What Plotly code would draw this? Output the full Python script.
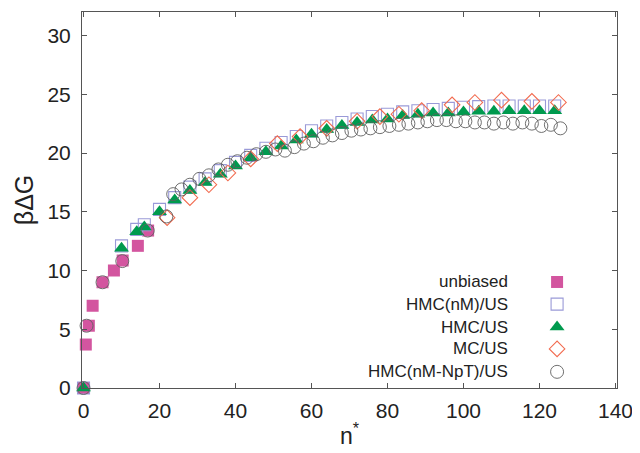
import plotly.graph_objects as go

# ---------------- data ----------------
unb_x = [0, 0.6, 1.4, 2.4, 5, 8, 10.3, 14.3, 17]
unb_y = [0, 3.7, 5.3, 7.0, 9.0, 10.0, 10.85, 12.1, 13.4]

nm_x = [0, 10, 14, 16, 20, 24, 28, 32, 36, 40, 44, 48, 52, 56, 60, 64, 68, 72,
        76, 80, 84, 88, 92, 96, 100, 104, 108, 112, 116, 120, 124]
nm_y = [0, 12.1, 13.5, 13.9, 15.2, 16.2, 17.1, 17.8, 18.5, 19.2, 19.8, 20.4, 20.9,
        21.4, 21.9, 22.3, 22.6, 22.9, 23.1, 23.3, 23.5, 23.6, 23.7, 23.8, 23.9,
        23.95, 24.0, 24.0, 24.0, 24.0, 24.0]

hmc_x = [0, 10, 14, 16, 20, 24, 28, 32, 36, 40, 44, 48, 52, 56, 60, 64, 68, 72,
         76, 80, 84, 88, 92, 96, 100, 104, 108, 112, 116, 120, 124]
hmc_y = [0, 11.9, 13.3, 13.7, 15.0, 16.0, 16.8, 17.5, 18.2, 18.9, 19.6, 20.1, 20.6,
         21.1, 21.6, 22.0, 22.35, 22.6, 22.8, 22.9, 23.2, 23.3, 23.4, 23.4, 23.5,
         23.55, 23.55, 23.6, 23.6, 23.6, 23.6]

mc_x = [22, 28, 33, 38, 44, 51, 57, 64, 72, 78, 83, 89, 97, 103, 110, 118, 125]
mc_y = [14.5, 16.2, 17.3, 18.3, 19.5, 20.8, 21.4, 22.1, 22.7, 23.1, 23.3, 23.6,
        24.1, 24.3, 24.5, 24.4, 24.3]

npt_x = [0, 0.8, 5, 10.2, 16.9, 21.8, 23.6, 25.8, 28, 30.5, 33, 35.5, 38, 40.5,
         43, 45.5, 48, 50.5, 53, 55.5, 58, 60.5, 63, 65.5, 68, 70.5, 73, 75.5, 78,
         80.5, 83, 85.5, 88, 90.5, 93, 95.5, 98, 100.5, 103, 105.5, 108, 110.5,
         113, 115.5, 118, 120.5, 123, 125.5]
npt_y = [0, 5.3, 9.0, 10.8, 13.4, 14.6, 16.5, 16.9, 17.3, 17.8, 18.1, 18.6, 19.0,
         19.3, 19.6, 19.9, 20.1, 20.3, 20.2, 20.5, 20.8, 21.0, 21.3, 21.5, 21.7,
         21.9, 22.0, 22.1, 22.2, 22.3, 22.4, 22.5, 22.6, 22.7, 22.8, 22.8, 22.7,
         22.7, 22.6, 22.6, 22.5, 22.6, 22.5, 22.6, 22.5, 22.3, 22.4, 22.1]

labels = ["unbiased", "HMC(nM)/US", "HMC/US", "MC/US", "HMC(nM-NpT)/US"]
x_ticks = [0, 20, 40, 60, 80, 100, 120, 140]
y_ticks = [0, 5, 10, 15, 20, 25, 30]

# ---------------- styles ----------------
MAG = "#d3559f"
BLUE = "#9a9ad8"
GREEN = "#009a4e"
ORANGE = "#f26b4f"
GRAY = "#606060"
styles = [
    dict(symbol="square", size=12, color=MAG, line=dict(width=0)),
    dict(symbol="square-open", size=12, color=BLUE, line=dict(width=1.1)),
    dict(symbol="triangle-up", size=13, color=GREEN, line=dict(width=0)),
    dict(symbol="diamond-open", size=12, color=ORANGE, line=dict(width=1.1)),
    dict(symbol="circle-open", size=13, color=GRAY, line=dict(width=0.9)),
]
series = [(unb_x, unb_y), (nm_x, nm_y), (hmc_x, hmc_y), (mc_x, mc_y), (npt_x, npt_y)]

fig = go.Figure()
for (xs, ys), st, name in zip(series, styles, labels):
    fig.add_trace(go.Scatter(x=xs, y=ys, mode="markers", marker=st, name=name,
                             cliponaxis=False, showlegend=False))

# custom legend (text right-aligned, key to the right)
leg_y = [0.282, 0.223, 0.162, 0.104, 0.043]
for st, name, ly in zip(styles, labels, leg_y):
    fig.add_trace(go.Scatter(x=[0.888], y=[ly], mode="markers", marker=st,
                             xaxis="x2", yaxis="y2", showlegend=False,
                             cliponaxis=False, hoverinfo="skip"))
    fig.add_annotation(x=0.80, y=ly, xref="paper", yref="paper", text=name,
                       showarrow=False, xanchor="right", yanchor="middle",
                       font=dict(size=17, color="#222"))

axis_common = dict(showline=True, linecolor="#555", linewidth=1, mirror="ticks",
                   ticks="inside", ticklen=5, tickcolor="#555", showgrid=False,
                   zeroline=False, automargin=False,
                   tickfont=dict(size=21, color="#222"))
# the page body adds an 8px offset, so margins are shifted to compensate
fig.update_layout(
    width=640, height=453,
    margin=dict(l=74, r=31, t=4, b=73),
    paper_bgcolor="white", plot_bgcolor="white",
    font=dict(family="Liberation Sans, Arial, sans-serif", color="#222"),
    xaxis=dict(range=[-0.4, 140.4], tickvals=x_ticks, ticklabelstandoff=4,
               title=dict(text="n<sup>*</sup>", font=dict(size=23), standoff=6),
               **axis_common),
    yaxis=dict(range=[0, 32], tickvals=y_ticks, ticklabelstandoff=6,
               title=dict(text="βΔG", font=dict(size=25), standoff=6),
               **axis_common),
    xaxis2=dict(range=[0, 1], overlaying="x", visible=False),
    yaxis2=dict(range=[0, 1], overlaying="y", visible=False),
)

fig.write_html("out.html")
